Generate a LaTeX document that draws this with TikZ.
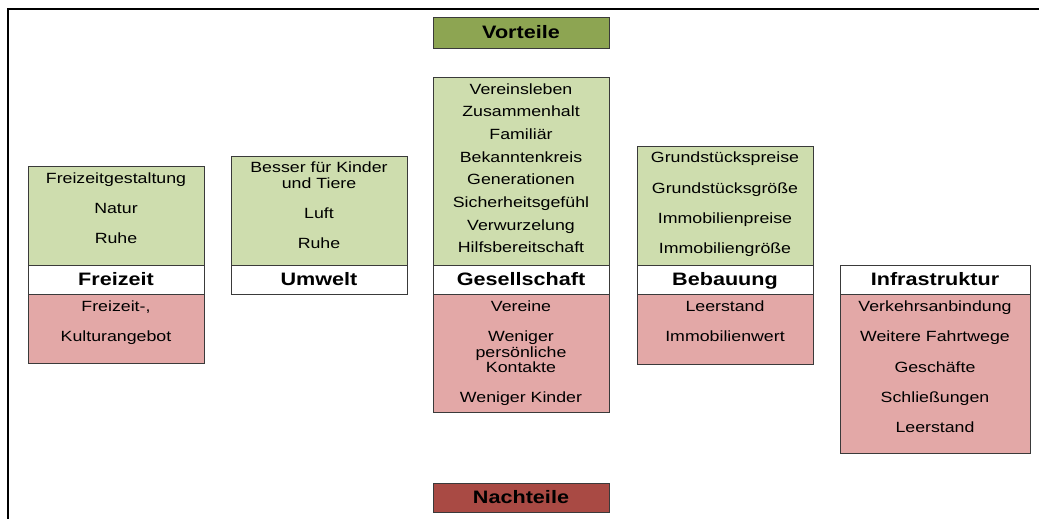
\documentclass[tikz,border=0pt]{standalone}
\usepackage{fontspec}
\setmainfont[FakeStretch=1.2]{Liberation Sans}
\definecolor{pgreen}{HTML}{CEDDAE}
\definecolor{pred}{HTML}{E3A8A7}
\definecolor{vgreen}{HTML}{8DA552}
\definecolor{nred}{HTML}{A94A44}
\definecolor{edge}{HTML}{3A3A3A}
\tikzset{
  part/.style={draw=edge, line width=0.9pt, anchor=north west, inner sep=0pt, outer sep=0pt, minimum width=176pt},
  gpart/.style={part, fill=pgreen},
  rpart/.style={part, fill=pred},
  wpart/.style={part, fill=white, minimum height=29pt},
  txt/.style={inner sep=0pt, yshift=-2pt, text height=10.5pt, text depth=3pt, font=\fontsize{14.8}{16}\selectfont},
  ttl/.style={inner sep=0pt, yshift=-1.5pt, text height=12pt, text depth=3.5pt, font=\fontsize{18}{19}\selectfont\bfseries},
}
\begin{document}
\begin{tikzpicture}[x=1pt,y=-1pt]
\useasboundingbox (0,0) rectangle (1039,519);
% frame
\coordinate (f1) at (7.5,519);
\coordinate (f2) at (7.5,9);
\coordinate (f3) at (1039,9);
\draw[line width=2pt, line cap=rect] (f1) -- (f2) -- (f3);

% headers
\node[part, fill=vgreen, minimum height=31pt] (vort) at (433,17) {};
\node[ttl] (vortt) at (vort.center) {Vorteile};
\node[part, fill=nred, minimum height=29pt] (nach) at (433,483) {};
\node[ttl] (nacht) at (nach.center) {Nachteile};

% column 1
\node[gpart, minimum height=99pt] (g1) at (28,166) {};
\node[wpart] (w1) at (28,265) {};
\node[rpart, minimum height=69pt] (r1) at (28,294) {};
\node[txt] (g1a) at (116,178) {Freizeitgestaltung};
\node[txt] (g1b) at (116,208) {Natur};
\node[txt] (g1c) at (116,238) {Ruhe};
\node[ttl] (t1) at (w1.center) {Freizeit};
\node[txt] (r1a) at (116,306) {Freizeit-,};
\node[txt] (r1b) at (116,336) {Kulturangebot};

% column 2
\node[gpart, minimum height=109pt] (g2) at (231,156) {};
\node[wpart] (w2) at (231,265) {};
\node[txt] (g2a) at (319,167) {Besser für Kinder};
\node[txt] (g2b) at (319,183) {und Tiere};
\node[txt] (g2c) at (319,213) {Luft};
\node[txt] (g2d) at (319,243) {Ruhe};
\node[ttl] (t2) at (w2.center) {Umwelt};

% column 3
\node[gpart, minimum height=189pt] (g3) at (433,77) {};
\node[wpart] (w3) at (433,265) {};
\node[rpart, minimum height=118pt] (r3) at (433,294) {};
\node[txt] (g3a) at (521,89) {Vereinsleben};
\node[txt] (g3b) at (521,111) {Zusammenhalt};
\node[txt] (g3c) at (521,134) {Familiär};
\node[txt] (g3d) at (521,157) {Bekanntenkreis};
\node[txt] (g3e) at (521,179) {Generationen};
\node[txt] (g3f) at (521,202) {Sicherheitsgefühl};
\node[txt] (g3g) at (521,225) {Verwurzelung};
\node[txt] (g3h) at (521,247) {Hilfsbereitschaft};
\node[ttl] (t3) at (w3.center) {Gesellschaft};
\node[txt] (r3a) at (521,306) {Vereine};
\node[txt] (r3b) at (521,336) {Weniger};
\node[txt] (r3c) at (521,352) {persönliche};
\node[txt] (r3d) at (521,367) {Kontakte};
\node[txt] (r3e) at (521,397) {Weniger Kinder};

% column 4
\node[gpart, minimum height=119pt] (g4) at (637,146) {};
\node[wpart] (w4) at (637,265) {};
\node[rpart, minimum height=70pt] (r4) at (637,294) {};
\node[txt] (g4a) at (725,157) {Grundstückspreise};
\node[txt] (g4b) at (725,188) {Grundstücksgröße};
\node[txt] (g4c) at (725,218) {Immobilienpreise};
\node[txt] (g4d) at (725,248) {Immobiliengröße};
\node[ttl] (t4) at (w4.center) {Bebauung};
\node[txt] (r4a) at (725,306) {Leerstand};
\node[txt] (r4b) at (725,336) {Immobilienwert};

% column 5
\node[wpart, minimum width=190pt] (w5) at (840,265) {};
\node[rpart, minimum width=190pt, minimum height=159pt] (r5) at (840,294) {};
\node[ttl] (t5) at (w5.center) {Infrastruktur};
\node[txt] (r5a) at (935,306) {Verkehrsanbindung};
\node[txt] (r5b) at (935,336) {Weitere Fahrtwege};
\node[txt] (r5c) at (935,367) {Geschäfte};
\node[txt] (r5d) at (935,397) {Schließungen};
\node[txt] (r5e) at (935,427) {Leerstand};
\end{tikzpicture}
\end{document}
